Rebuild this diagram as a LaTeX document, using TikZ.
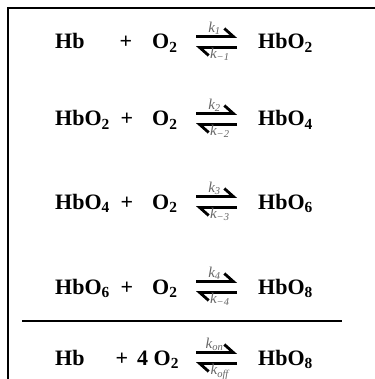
\documentclass[tikz,border=0pt]{standalone}
\usepackage{fontspec}
\setmainfont{Liberation Serif}
\usetikzlibrary{arrows.meta}

\tikzset{
  species/.style={inner sep=0pt, anchor=base west},
  fwd/.style={line width=2.8pt, -{Straight Barb[left, length=9pt, width=16pt]}},
  rate/.style={inner sep=0.5pt, text=black!60, font=\fontsize{15}{16}\selectfont\mdseries\itshape},
}

\begin{document}
\begin{tikzpicture}[x=1pt, y=-1pt, font=\fontsize{22}{26}\selectfont\bfseries]
    \useasboundingbox (0,0) rectangle (374,379);
    \draw[line width=2.6pt] (8,382) -- (8,8) -- (377,8);

    \foreach \i/\y/\r/\sx/\o/\ox/\p/\f/\b in {
        1/49/Hb/126/O\textsubscript{2}/152/HbO\textsubscript{2}/1/{−1},
        2/126/HbO\textsubscript{2}/127/O\textsubscript{2}/152/HbO\textsubscript{4}/2/{−2},
        3/209/HbO\textsubscript{4}/127/O\textsubscript{2}/152/HbO\textsubscript{6}/3/{−3},
        4/294/HbO\textsubscript{6}/127/O\textsubscript{2}/152/HbO\textsubscript{8}/4/{−4},
        5/365/Hb/122/4 O\textsubscript{2}/137/HbO\textsubscript{8}/on/off}{
        \node[species] (r\i) at (55,\y) {\r};
        \node[inner sep=0pt, anchor=base] (s\i) at (\sx,\y) {+};
        \node[species] (o\i) at (\ox,\y) {\o};
        \node[species] (p\i) at (258,\y) {\p};
        \coordinate (a\i) at (196,\y-7);
        \coordinate (b\i) at (237,\y-7);
        \draw[fwd] ([yshift=5.5pt]a\i) -- ([yshift=5.5pt]b\i)
            node[rate, pos=0.45, above] {k\textsubscript{\f}};
        \draw[fwd] ([yshift=-5.5pt]b\i) -- ([yshift=-5.5pt]a\i)
            node[rate, pos=0.42, below=-1pt] {k\textsubscript{\b}};
    }

    \draw[line width=2.6pt] (22,321) -- (342,321);
\end{tikzpicture}
\end{document}
